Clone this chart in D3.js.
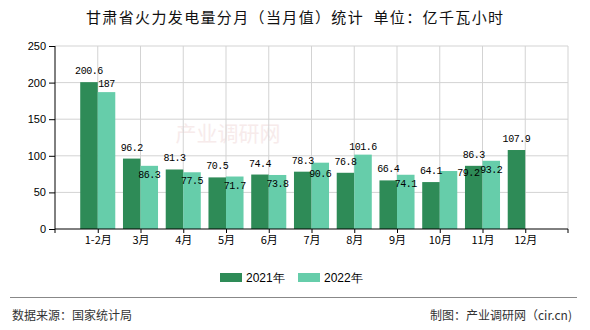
<!DOCTYPE html>
<html><head><meta charset="utf-8">
<script src="https://cdn.jsdelivr.net/npm/d3@7"></script>
<style>body{margin:0;background:#fff}svg{display:block}</style>
</head><body>
<script>
const categories = ["1-2月","3月","4月","5月","6月","7月","8月","9月","10月","11月","12月"];
const values2021 = [200.6,96.2,81.3,70.5,74.4,78.3,76.8,66.4,64.1,86.3,107.9];
const values2022 = [187,86.3,77.5,71.7,73.8,90.6,101.6,74.1,79.2,93.2,null];
const seriesNames = ["2021年","2022年"];
const yTicks = [0,50,100,150,200,250];
const titleText = "甘肃省火力发电量分月（当月值）统计  单位：亿千瓦小时";
const sourceText = "数据来源：国家统计局";
const creditText = "制图：产业调研网（cir.cn)";

const W=590,H=330;
const colors=["#2e8b57","#66cdaa"];
const svg=d3.select("body").append("svg").attr("width",W).attr("height",H);
const L=55,R=568,T=46,B=229;
const x=d3.scalePoint().domain(categories).range([L,R]).padding(1);
const y=d3.scaleLinear().domain([0,250]).range([B,T]);
const step=x.step(), bw=step*0.41;

// title
svg.append("text").attr("x",86).attr("y",23)
 .style("font-family","'Noto Sans CJK SC',sans-serif").style("font-size","15px").attr("fill","#111")
 .attr("textLength",417).attr("lengthAdjust","spacing")
 .attr("xml:space","preserve").text(titleText);

// watermark
svg.append("text").attr("x",228).attr("y",141).attr("text-anchor","middle")
 .style("font-family","'Noto Sans CJK SC',sans-serif").style("font-size","21px").attr("fill","#f3dede").attr("opacity",0.6)
 .text("产业调研网");

// grid
const g=svg.append("g");
g.selectAll("line.h").data(yTicks.filter(d=>d>0)).enter().append("line")
 .attr("x1",L).attr("x2",R).attr("y1",d=>y(d)).attr("y2",d=>y(d)).attr("stroke","#d3d3d3");
g.selectAll("line.v").data(categories).enter().append("line")
 .attr("x1",d=>x(d)).attr("x2",d=>x(d)).attr("y1",T).attr("y2",B).attr("stroke","#d3d3d3");
g.append("line").attr("x1",R).attr("x2",R).attr("y1",T).attr("y2",B).attr("stroke","#d3d3d3");

// bars
const bars=svg.append("g");
bars.selectAll("rect.a").data(categories).enter().append("rect")
 .attr("x",d=>x(d)-bw).attr("width",bw).attr("y",(d,i)=>y(values2021[i])).attr("height",(d,i)=>B-y(values2021[i])).attr("fill",colors[0]);
bars.selectAll("rect.b").data(categories.filter((d,i)=>values2022[i]!=null)).enter().append("rect")
 .attr("x",d=>x(d)).attr("width",bw).attr("y",d=>y(values2022[categories.indexOf(d)])).attr("height",d=>B-y(values2022[categories.indexOf(d)])).attr("fill",colors[1]);

// axes
const yAxis=svg.append("g").attr("transform",`translate(${L},0)`).call(d3.axisLeft(y).tickValues(yTicks).tickSize(6).tickPadding(3).tickFormat(d3.format("d")));
yAxis.select(".domain").attr("d",`M0,${T}V${B+4}`);
yAxis.selectAll("text").style("font-family","'Liberation Sans',Arial,sans-serif").style("font-size","11px").attr("fill","#000");
const xAxis=svg.append("g").attr("transform",`translate(0,${B})`).call(d3.axisBottom(x).tickSize(4).tickPadding(3));
xAxis.select(".domain").attr("d",`M${L},0H${R}V4`);
xAxis.selectAll("text").style("font-family","'Noto Sans CJK SC',sans-serif").style("font-size","11px").attr("fill","#000");

// value labels with simple collision avoidance
const lblFont="'Liberation Mono','DejaVu Sans Mono',monospace";
const cw=5.6, lh=12;
const placed=[];
const overlaps=(b)=>placed.some(p=>b.x1<p.x2&&b.x2>p.x1&&b.y1<p.y2&&b.y2>p.y1);
const labels=[];
categories.forEach((c,i)=>{
  const v=values2021[i]; const s=String(v); const cx=x(c)-bw/2; const by=y(v)-8; const w=s.length*cw;
  placed.push({x1:cx-w/2,x2:cx+w/2,y1:by-lh,y2:by});
  labels.push({t:s,x:cx,y:by,a:"middle"});
});
categories.forEach((c,i)=>{
  const v=values2022[i]; if(v==null) return; const s=String(v); const w=s.length*cw;
  const cx=x(c)+bw/2, top=y(v);
  const cands=[{x:cx,y:top-5,a:"middle"},{x:cx,y:top+12,a:"middle"},{x:cx,y:top+14,a:"middle"},{x:x(c)+bw,y:top+5,a:"start"}];
  let chosen=cands[cands.length-1];
  for(const cd of cands){
    const x1=cd.a==="middle"?cd.x-w/2:cd.x;
    if(!overlaps({x1:x1,x2:x1+w,y1:cd.y-lh,y2:cd.y})){chosen=cd;break;}
  }
  const x1=chosen.a==="middle"?chosen.x-w/2:chosen.x;
  placed.push({x1:x1,x2:x1+w,y1:chosen.y-lh,y2:chosen.y});
  labels.push({t:s,x:chosen.x,y:chosen.y,a:chosen.a});
});
svg.append("g").selectAll("text").data(labels).enter().append("text")
 .attr("x",d=>d.x).attr("y",d=>d.y).attr("text-anchor",d=>d.a)
 .style("font-family",lblFont).style("font-size","10px").style("letter-spacing","-0.45px")
 .attr("fill","#000").text(d=>d.t);

// legend
const leg=svg.append("g");
const legX=[220,298];
seriesNames.forEach((n,i)=>{
  leg.append("rect").attr("x",legX[i]).attr("y",273).attr("width",22).attr("height",9).attr("fill",colors[i]);
  leg.append("text").attr("x",legX[i]+26).attr("y",281.5).style("font-family","'Liberation Sans',Arial,sans-serif").style("font-size","12px").attr("fill","#000").text(n);
});

// footer
svg.append("line").attr("x1",10).attr("x2",577).attr("y1",297.5).attr("y2",297.5).attr("stroke","#888").attr("stroke-width",1);
svg.append("text").attr("x",12).attr("y",320).style("font-family","'Noto Sans CJK SC',sans-serif").style("font-size","12px").attr("fill","#333").text(sourceText);
svg.append("text").attr("x",572).attr("y",320).attr("text-anchor","end").style("font-family","'Noto Sans CJK SC',sans-serif").style("font-size","12px").attr("fill","#333").text(creditText);
</script>
</body></html>
